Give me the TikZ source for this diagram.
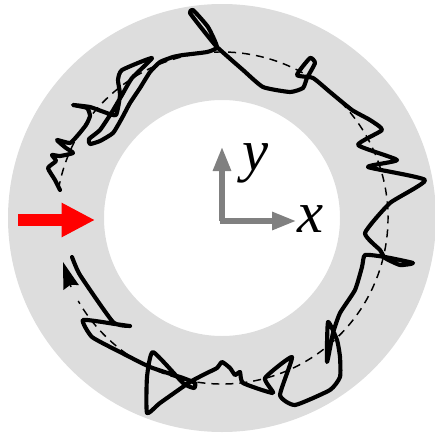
\documentclass[tikz,border=0pt]{standalone}
\usepackage{fontspec}
\setmainfont{Liberation Serif}
\usetikzlibrary{arrows.meta}

\definecolor{ringgray}{RGB}{221,221,221}
\definecolor{axisgray}{RGB}{128,128,128}

\tikzset{
  walk/.style={black, line width=3.1pt, line cap=round, line join=round},
  orbit/.style={black, line width=1.1pt},
  axis/.style={axisgray, line width=3.8pt, -{Triangle[length=18pt, width=13pt]}},
  axislabel/.style={font=\fontsize{44}{44}\selectfont\itshape, inner sep=0pt}
}

\begin{document}
\begin{tikzpicture}[x=0.75pt, y=-0.75pt]
  \useasboundingbox (0,0) rectangle (435,432);

  % Ring
  \coordinate (O) at (222,218);
  \fill[ringgray, even odd rule] (O) circle (214) (O) circle (118);

  % Mean orbit (y is flipped, so angles run clockwise on the page)
  \draw[orbit, dash pattern=on 6pt off 4.5pt]
    (O) ++(-170:166) arc[start angle=-170, end angle=150, radius=166];
  \coordinate (orbitfoot) at (71,287);
  \coordinate (orbitend) at (63,262);
  \draw[orbit, -{Stealth[length=20pt, width=12pt, inset=2pt]}] (orbitfoot) -- (orbitend);

  % Trajectory
  \draw[walk] plot[smooth, tension=0.3] coordinates {
    (72,257) (80,275) (113,322) (130,326) (115,324) (83,320) (92,337)
    (120,352) (150,367) (183,378) (195,383) (194,388) (183,383) (153,352)
    (147,377) (147,413) (160,403) (190,382) (207,373) (217,368) (222,362)
    (230,368) (235,375) (240,372) (243,383) (273,393) (265,378) (292,357)
    (280,395) (295,405) (330,390) (340,377) (340,357) (337,340) (328,322)
    (327,362) (333,333) (340,313) (355,290) (362,267) (365,255) (385,257)
    (413,263) (400,265) (385,258) (380,250) (365,233) (390,203) (425,180)
    (368,167) (397,160) (358,145) (382,130) (370,120) (352,110) (330,92)
    (313,78) (297,75) (310,58) (315,63) (307,78) (303,88) (290,92)
    (263,87) (243,70) (217,47) (203,30) (190,13) (193,10) (208,27)
    (217,47) (207,52) (183,55) (173,57) (160,62) (150,72) (140,88)
    (130,103) (122,118) (113,133) (100,141) (90,144) (89,139) (100,130)
    (112,112) (122,95) (132,78) (152,58) (122,70) (118,80) (120,95)
    (116,115) (104,112) (90,107) (73,105) (87,108) (90,116) (86,125)
    (78,135) (70,143) (57,140) (66,148) (73,153) (60,156) (52,155)
    (56,161) (48,168) (55,180) (60,190)};

  % Load
  \coordinate (pushstart) at (18,220);
  \coordinate (pushend) at (95,220);
  \draw[red, line width=8.3pt, -{Triangle[length=25pt, width=24pt]}] (pushstart) -- (pushend);

  % Axes
  \coordinate (ytip) at (222,147);
  \coordinate (xtip) at (296,221);
  \draw[axis] (222,221) -- (ytip);
  \draw[axis] (220.1,221) -- (xtip);
  \node[axislabel] (ylab) at (256,163) {y};
  \node[axislabel] (xlab) at (311,219) {x};
\end{tikzpicture}
\end{document}
